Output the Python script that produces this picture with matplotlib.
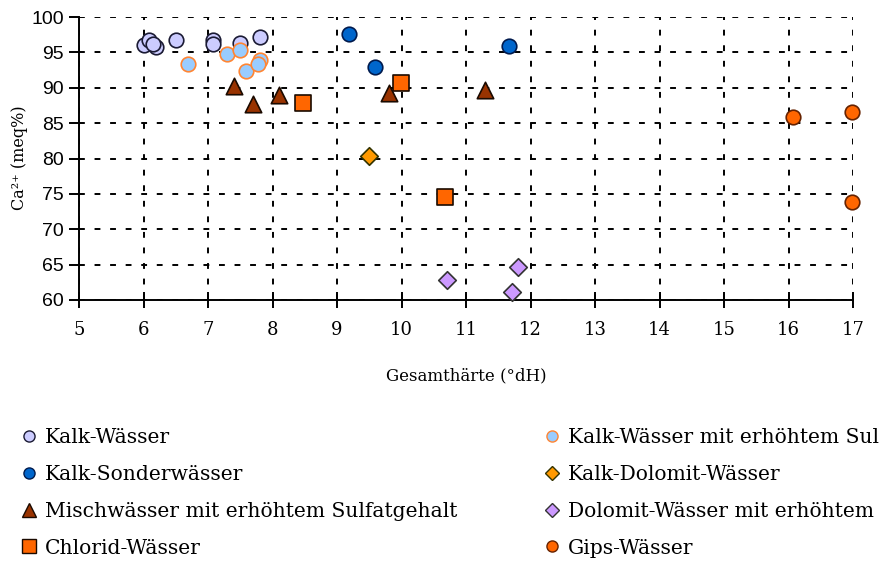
import matplotlib
matplotlib.use("Agg")
import matplotlib.pyplot as plt
from matplotlib.lines import Line2D

# ---- data ----
kalk_x = [6.0, 6.08, 6.2, 6.15, 6.5, 7.08, 7.08, 7.5, 7.8]
kalk_y = [96.1, 96.7, 95.7, 96.2, 96.7, 96.8, 96.2, 96.3, 97.2]

kalk_sulf_x = [6.69, 7.29, 7.49, 7.59, 7.8, 7.78]
kalk_sulf_y = [93.3, 94.7, 95.3, 92.3, 93.9, 93.4]

sonder_x = [9.18, 9.59, 11.67]
sonder_y = [97.6, 92.9, 95.9]

kalkdol_x = [9.5]
kalkdol_y = [80.3]

misch_x = [7.41, 7.7, 8.1, 9.8, 11.3]
misch_y = [90.3, 87.7, 89.0, 89.3, 89.7]

chlorid_x = [8.48, 9.99, 10.67]
chlorid_y = [87.9, 90.7, 74.6]

dolomit_x = [10.7, 11.81, 11.71]
dolomit_y = [62.8, 64.6, 61.1]

gips_x = [16.07, 16.98, 16.98]
gips_y = [85.9, 86.6, 73.9]

xticks = list(range(5, 18))
yticks = list(range(60, 101, 5))

labels_col1 = ["Kalk-Wässer", "Kalk-Sonderwässer",
               "Mischwässer mit erhöhtem Sulfatgehalt", "Chlorid-Wässer"]
labels_col2 = ["Kalk-Wässer mit erhöhtem Sul", "Kalk-Dolomit-Wässer",
               "Dolomit-Wässer mit erhöhtem", "Gips-Wässer"]

# ---- figure ----
fig = plt.figure(figsize=(8.91, 5.65), dpi=100)
ax = fig.add_axes([79/891, 1-300/565, (853-79)/891, (300-17)/565])

series = [
    (kalk_x, kalk_y, "o", "#CCCCFF", "#1a1a33", 110),
    (kalk_sulf_x, kalk_sulf_y, "o", "#99CCFF", "#FF8533", 110),
    (sonder_x, sonder_y, "o", "#0066CC", "#001a4d", 110),
    (kalkdol_x, kalkdol_y, "D", "#FF9900", "#333300", 80),
    (misch_x, misch_y, "^", "#993300", "#1a0a00", 140),
    (chlorid_x, chlorid_y, "s", "#FF6600", "#1a0a00", 130),
    (dolomit_x, dolomit_y, "D", "#CC99FF", "#333333", 80),
    (gips_x, gips_y, "o", "#FF6600", "#662200", 110),
]
for xs, ys, m, fc, ec, s in series:
    ax.scatter(xs, ys, marker=m, s=s, facecolor=fc, edgecolor=ec,
               linewidth=1.2, zorder=3, clip_on=False)

ax.set_xlim(5, 17)
ax.set_ylim(60, 100)
ax.set_xticks(xticks)
ax.set_yticks(yticks)
ax.grid(True, color="black", linestyle=(0, (3, 5)), linewidth=1.4)
ax.set_axisbelow(True)
for sp in ["top", "right"]:
    ax.spines[sp].set_visible(False)
for sp in ["left", "bottom"]:
    ax.spines[sp].set_linewidth(1.4)
    ax.spines[sp].set_zorder(2.5)

ax.tick_params(axis="x", direction="inout", length=12, width=1.4, pad=9,
               labelsize=13)
ax.tick_params(axis="y", direction="out", length=7, width=1.4, pad=4,
               labelsize=14)
for t in ax.get_xticklabels():
    t.set_family("DejaVu Serif")
for t in ax.get_yticklabels():
    t.set_family("Liberation Sans")

fig.text(466/891, 1-376/565, "Gesamthärte (°dH)", ha="center", va="center",
         fontsize=12, family="DejaVu Serif")
fig.text(20/891, 1-158/565, "Ca²⁺ (meq%)", ha="center", va="center",
         rotation=90, fontsize=11.5, family="DejaVu Serif")

# ---- legend ----
def handle(m, fc, ec, ms):
    return Line2D([], [], marker=m, linestyle="none", markerfacecolor=fc,
                  markeredgecolor=ec, markersize=ms, markeredgewidth=1.0)

h1 = [handle("o", "#CCCCFF", "#1a1a33", 8), handle("o", "#0066CC", "#001a4d", 8),
      handle("^", "#993300", "#1a0a00", 10), handle("s", "#FF6600", "#1a0a00", 10)]
h2 = [handle("o", "#99CCFF", "#FF8533", 8), handle("D", "#FF9900", "#333300", 7.5),
      handle("D", "#CC99FF", "#333333", 7.5), handle("o", "#FF6600", "#662200", 8)]

common = dict(loc="upper left", frameon=False, handlelength=0.6,
              handletextpad=0.5, labelspacing=0.88,
              prop={"family": "DejaVu Serif", "size": 14.6},
              borderaxespad=0, borderpad=0)
leg1 = fig.legend(h1, labels_col1, bbox_to_anchor=(23/891, 1-428/565), **common)
leg2 = fig.legend(h2, labels_col2, bbox_to_anchor=(546/891, 1-428/565), **common)

fig.savefig("out.png", dpi=100)
